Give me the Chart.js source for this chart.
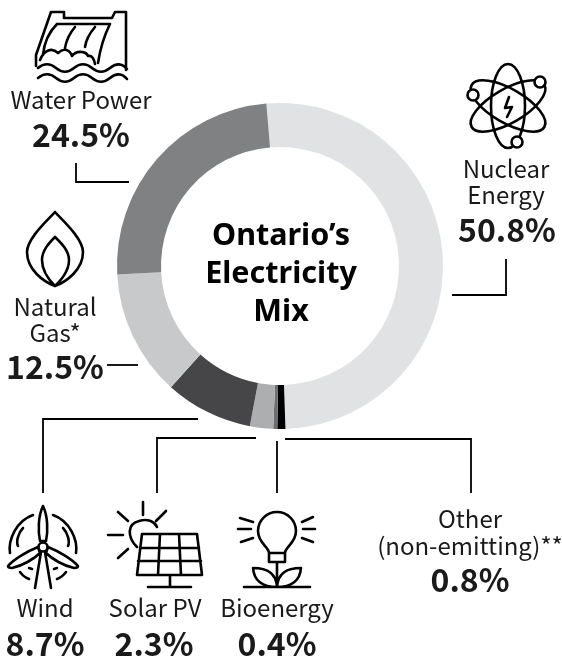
<!DOCTYPE html>
<html>
<head>
<meta charset="utf-8">
<title>Ontario's Electricity Mix</title>
<script src="https://cdn.jsdelivr.net/npm/chart.js@4"></script>
<style>
html, body { margin: 0; padding: 0; background: #fff; }
#wrap { position: relative; width: 562px; height: 659px; }
</style>
</head>
<body>
<div id="wrap"><canvas id="mix"></canvas></div>
<script>
// data
const categories = ['Nuclear Energy', 'Other (non-emitting)**', 'Bioenergy', 'Solar PV', 'Wind', 'Natural Gas*', 'Water Power'];
const shares = [50.8, 0.8, 0.4, 2.3, 8.7, 12.5, 24.5];
const centerTitle = ["Ontario\u2019s", 'Electricity', 'Mix'];

const sliceColours = ['#e1e2e3', '#000000', '#6d6e70', '#adaeb0', '#464648', '#c8c9cb', '#808183'];

const labelFont = '24px "Noto Sans CJK SC"';
const valueFont = 'bold 32px "Noto Sans CJK SC"';
const titleFont = 'bold 30.5px "Noto Sans"';

// where each callout goes: name lines, then the percentage
const callouts = [
    { lines: ['Nuclear', 'Energy'], x: 506, ys: [178, 204], valueX: 507, valueY: 242 },
    { lines: ['Other', '(non-emitting)**'], x: 470, ys: [528, 555], valueX: 470, valueY: 592 },
    { lines: ['Bioenergy'], x: 277, ys: [617], valueX: 277, valueY: 656 },
    { lines: ['Solar PV'], x: 155, ys: [617], valueX: 154, valueY: 656 },
    { lines: ['Wind'], x: 45, ys: [617], valueX: 45, valueY: 656 },
    { lines: ['Natural', 'Gas*'], x: 55, ys: [316, 342], valueX: 55, valueY: 379 },
    { lines: ['Water Power'], x: 81, ys: [109], valueX: 81, valueY: 147 }
];

const leaders = [
    'M506 259V295H452',
    'M76 163V182H129',
    'M107 365H138',
    'M43 493V419H198',
    'M157 493V438H256',
    'M277 441V493',
    'M285 439H471V493'
];

const icons = [
    // dam
    'M36 66V55L51 12H64V18H112L115 12H126V70 M57 24H110 M110 24C104 36 100 50 98 63 M57 24C49 32 44 44 43 55 M75 27C69 34 66 42 65 48 M95 27C89 34 86 40 85 47 ' +
    'M40 60C44 50 52 47 58 53C64 47 70 50 72 56C76 50 86 51 88 56C92 55 94 59 95 64 ' +
    'M38 68C44 63 50 63 56 68S68 73 74 68 86 63 92 68 104 73 110 68 122 63 127 69 ' +
    'M38 78C44 73 50 73 56 78S68 83 74 78 86 73 92 78 104 83 110 78 122 73 127 79',
    // flame
    'M55 212C50 218 27 238 27 252C27 270 44 282 55 286C66 282 83 270 83 252C83 238 60 218 55 212Z ' +
    'M55 237C50 242 42 250 42 260C42 272 50 281 55 286C60 281 69 272 69 260C69 250 60 242 55 237Z',
    // bolt in the atom
    'M509 97L505 108L512 107L507 117',
    // wind turbine
    'M43 506C38 516 38 532 40 541H46C48 532 48 516 43 506Z ' +
    'M38 547C28 551 14 559 8 566C8 568 10 568 12 568C22 566 34 559 40 553Z ' +
    'M48 547C58 551 72 559 78 566C78 568 76 568 74 568C64 566 52 559 46 553Z ' +
    'M41 552L35 588 M45 552L51 588 ' +
    'M33 515C16 521 8 540 10 553 M23 528C18 533 16 542 18 546 M53 515C70 521 78 540 76 553 M63 528C68 533 70 542 68 546 ' +
    'M20 572C23 576 26 578 29 579 M66 572C63 576 60 578 57 579 M29 568L32 569 M57 568L54 569',
    // sun and panel
    'M137 547C127 537 127 524 139 521C148 518 155 522 157 527 M143 502V515 M118 512L128 521 M166 511L156 521 M108 535H123 M118 558L128 549 ' +
    'M142 534H197L202 575H137Z M160 534L158 575 M179 534L181 575 M140 548H199 M138 561H201 M170 575V587 M148 587H191',
    // bulb and plant
    'M269 553C269 547 258 543 258 531A19 19 0 0 1 296 531C296 543 285 547 285 553Z M269 553V562H285V553 M277 562V587 M244 587H310 ' +
    'M277 587C262 587 254 580 253 568C266 568 276 572 277 587Z M277 587C292 587 300 580 301 568C288 568 278 572 277 587Z ' +
    'M240 518L253 522 M238 529H251 M241 542L253 538 M302 522L313 517 M303 529H315 M302 538L313 542'
];

// leader lines, icons and texts are drawn on the chart's own canvas
const annotations = {
    id: 'annotations',
    afterDraw(chart) {
        const c = chart.ctx;
        const arc = chart.getDatasetMeta(0).data[0];

        c.save();
        c.strokeStyle = '#000';
        c.lineWidth = 1.8;
        leaders.forEach(d => c.stroke(new Path2D(d)));

        c.strokeStyle = '#000';
        c.lineWidth = 2.6;
        c.lineJoin = 'round';
        c.lineCap = 'round';
        icons.forEach(d => c.stroke(new Path2D(d)));

        // atom orbits
        [0, Math.PI / 3, -Math.PI / 3].forEach(a => {
            c.beginPath();
            c.ellipse(508, 106, 17, 42, a, 0, Math.PI * 2);
            c.stroke();
        });
        [[473, 95], [540, 82], [517, 142]].forEach(p => {
            c.beginPath();
            c.arc(p[0], p[1], 5.5, 0, Math.PI * 2);
            c.fillStyle = '#fff';
            c.fill();
            c.stroke();
        });
        // turbine hub
        c.beginPath();
        c.arc(43, 547, 4.5, 0, Math.PI * 2);
        c.fillStyle = '#fff';
        c.fill();
        c.stroke();

        c.textAlign = 'center';
        c.textBaseline = 'alphabetic';
        c.fillStyle = '#1a1a1a';
        callouts.forEach((o, i) => {
            c.font = labelFont;
            o.lines.forEach((t, j) => c.fillText(t, o.x, o.ys[j]));
            c.font = valueFont;
            c.fillText(shares[i].toFixed(1) + '%', o.valueX, o.valueY);
        });

        c.fillStyle = '#000';
        c.font = titleFont;
        centerTitle.forEach((t, i) => c.fillText(t, arc.x + 1, 245 + i * 38));
        c.restore();
    }
};

new Chart(document.getElementById('mix').getContext('2d'), {
    type: 'doughnut',
    data: {
        labels: categories,
        datasets: [{
            data: shares,
            backgroundColor: sliceColours,
            borderWidth: 0
        }]
    },
    options: {
        responsive: true,
        maintainAspectRatio: false,
        animation: false,
        rotation: -4.8,
        cutout: '73%',
        layout: {
            padding: { left: 117, right: 119, top: 103, bottom: 230 }
        },
        plugins: {
            legend: { display: false },
            tooltip: { enabled: false }
        }
    },
    plugins: [annotations]
});
</script>
</body>
</html>
